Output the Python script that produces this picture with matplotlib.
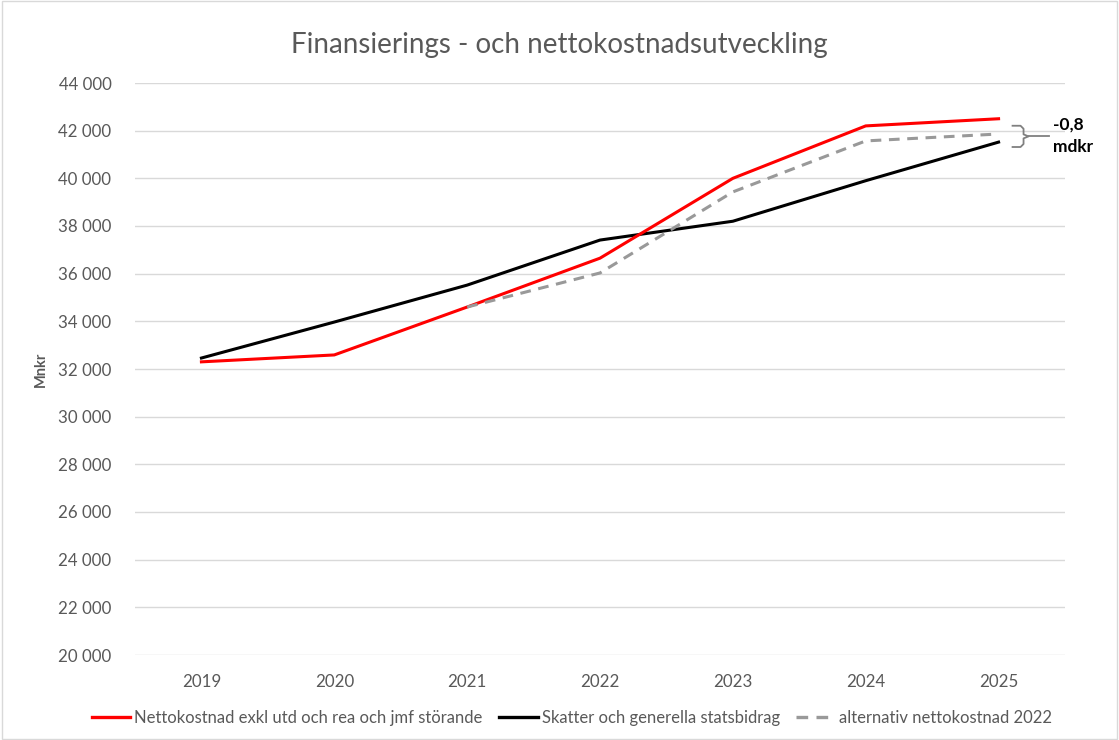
import matplotlib
matplotlib.use("Agg")
import matplotlib.pyplot as plt
from matplotlib.lines import Line2D
from matplotlib.patches import Rectangle

years = [2019, 2020, 2021, 2022, 2023, 2024, 2025]
netto = [32300, 32590, 34600, 36650, 40000, 42200, 42500]
skatter = [32460, 33970, 35520, 37410, 38200, 39900, 41520]
alt_years = [2021, 2022, 2023, 2024, 2025]
alt_netto = [34600, 36030, 39430, 41570, 41860]
yticks = list(range(20000, 44001, 2000))

labels = ["Nettokostnad exkl utd och rea och jmf störande",
          "Skatter och generella statsbidrag",
          "alternativ nettokostnad 2022"]
title = "Finansierings - och nettokostnadsutveckling"
diff_text = "-0,8\nmdkr"

plt.rcParams['font.family'] = ['Lato', 'DejaVu Sans']
grey = '#595959'

fig = plt.figure(figsize=(11.19, 7.40), dpi=100)
ax = fig.add_axes([135/1119, 1-655/740, (1065-135)/1119, (655-83)/740])

x_idx = {y: i for i, y in enumerate(years)}
xs = [x_idx[y] for y in years]
xa = [x_idx[y] for y in alt_years]

ax.plot(xs, netto, color='#ff0000', lw=2.2, zorder=4)
ax.plot(xs, skatter, color='#000000', lw=2.2, zorder=3)
ax.plot(xa, alt_netto, color='#999999', lw=2.2, ls=(0, (3.5, 2.5)), zorder=5)

ax.set_xlim(-0.5, len(years) - 0.5)
ax.set_ylim(yticks[0], yticks[-1])
ax.set_yticks(yticks)
ax.set_yticklabels([f"{v:,}".replace(",", " ") for v in yticks])
ax.set_xticks(xs)
ax.set_xticklabels([str(y) for y in years])
ax.tick_params(axis='both', length=0, labelsize=12.2, labelcolor=grey)
ax.tick_params(axis='y', pad=17)
ax.tick_params(axis='x', pad=14)
ax.yaxis.grid(True, color='#d9d9d9', lw=1)
ax.set_axisbelow(True)
for s in ax.spines.values():
    s.set_visible(False)

ax.set_ylabel("Mnkr", fontsize=10.5, fontweight='bold', color=grey, labelpad=7)

fig.text(0.5, 1-45/740, title, ha='center', va='center', fontsize=20, color=grey)

# brace annotation between last red and gray dashed values
px_x = 1/133.0   # data units per pixel in x
px_y = 1000/23.83  # data units per pixel in y
x0 = xs[-1]
ytop = netto[-1] - 7*px_y
ybot = alt_netto[-1] - 13*px_y
ymid = (ytop + ybot) / 2
bx = [x0 + 14*px_x, x0 + 22*px_x, x0 + 25*px_x, x0 + 25*px_x, x0 + 30*px_x,
      x0 + 25*px_x, x0 + 25*px_x, x0 + 22*px_x, x0 + 14*px_x]
by = [ytop, ytop, ytop - 3*px_y, ymid + 2*px_y, ymid,
      ymid - 2*px_y, ybot + 3*px_y, ybot, ybot]
ax.plot(bx, by, color='#808080', lw=1.3, clip_on=False)
ax.plot([x0 + 30*px_x, x0 + 50*px_x], [ymid, ymid], color='#808080', lw=1.3, clip_on=False)
ax.text(x0 + 54*px_x, ymid + 1*px_y, diff_text, ha='left', va='center', fontsize=12.5,
        fontweight='bold', color='#000000', linespacing=1.5, clip_on=False)

handles = [Line2D([], [], color='#ff0000', lw=2.4),
           Line2D([], [], color='#000000', lw=2.4),
           Line2D([], [], color='#999999', lw=2.4, ls=(0, (3.5, 2.5)))]
leg = fig.legend(handles, labels, loc='center', bbox_to_anchor=(0.511, 1-718/740), ncol=3,
                 frameon=False, fontsize=12, handlelength=2.3, handletextpad=0.25,
                 columnspacing=1.0)
for t in leg.get_texts():
    t.set_color(grey)

fig.add_artist(Rectangle((0.002, 0.002), 0.996, 0.996, transform=fig.transFigure,
                         fill=False, edgecolor='#d9d9d9', lw=1))

fig.savefig("out.png", dpi=100)
